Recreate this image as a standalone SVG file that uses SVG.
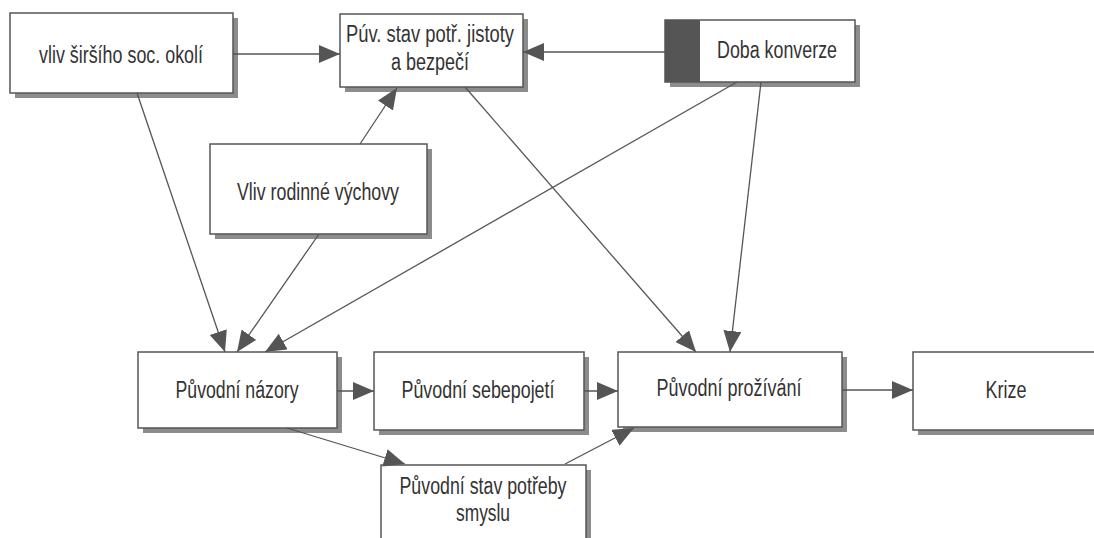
<svg xmlns="http://www.w3.org/2000/svg" width="1094" height="538" viewBox="0 0 1094 538">
<defs>
<marker id="ah" markerUnits="userSpaceOnUse" markerWidth="23" markerHeight="19" refX="21" refY="9" orient="auto">
<path d="M0,0 L21,9 L0,18 z" fill="#555"/>
</marker>
<style>
.sh{fill:#8c8c8c}
.bx{fill:#fff;stroke:#555;stroke-width:1.5}
.t{font-family:"Liberation Sans",Arial,sans-serif;font-size:23px;fill:#333;text-anchor:middle}
.c{dominant-baseline:central}
.e{stroke:#555;stroke-width:1.3;fill:none;marker-end:url(#ah)}
</style>
</defs>
<rect width="1094" height="538" fill="#fff"/>
<g id="n-vliv">
<rect class="sh" x="15" y="18" width="223" height="80"/>
<rect class="bx" x="10" y="13" width="223" height="80"/>
<text class="t c" x="121" y="55" textLength="164" lengthAdjust="spacingAndGlyphs">vliv širšího soc. okolí</text>
</g>
<g id="n-puv">
<rect class="sh" x="345" y="19" width="183" height="73"/>
<rect class="bx" x="340" y="14" width="183" height="73"/>
<text class="t" x="430" y="42" textLength="168" lengthAdjust="spacingAndGlyphs">Púv. stav potř. jistoty</text>
<text class="t" x="430" y="70" textLength="78" lengthAdjust="spacingAndGlyphs">a bezpečí</text>
</g>
<g id="n-doba">
<rect class="sh" x="670" y="25" width="190" height="62"/>
<rect class="bx" x="665" y="20" width="190" height="62"/>
<rect x="665" y="20" width="35" height="62" fill="#555"/>
<text class="t c" x="777" y="50" textLength="120" lengthAdjust="spacingAndGlyphs">Doba konverze</text>
</g>
<g id="n-rodina">
<rect class="sh" x="215" y="149" width="217" height="90"/>
<rect class="bx" x="210" y="144" width="217" height="90"/>
<text class="t c" x="318" y="192" textLength="162" lengthAdjust="spacingAndGlyphs">Vliv rodinné výchovy</text>
</g>
<g id="n-nazory">
<rect class="sh" x="143" y="357" width="199" height="76"/>
<rect class="bx" x="138" y="352" width="199" height="76"/>
<text class="t c" x="237" y="390" textLength="123" lengthAdjust="spacingAndGlyphs">Původní názory</text>
</g>
<g id="n-sebepojeti">
<rect class="sh" x="379" y="357" width="210" height="78"/>
<rect class="bx" x="374" y="352" width="210" height="78"/>
<text class="t c" x="478" y="390" textLength="153" lengthAdjust="spacingAndGlyphs">Původní sebepojetí</text>
</g>
<g id="n-prozivani">
<rect class="sh" x="623" y="357" width="224" height="75"/>
<rect class="bx" x="618" y="352" width="224" height="75"/>
<text class="t c" x="729" y="388" textLength="145" lengthAdjust="spacingAndGlyphs">Původní prožívání</text>
</g>
<g id="n-krize">
<rect class="sh" x="918" y="357" width="190" height="78"/>
<rect class="bx" x="913" y="352" width="190" height="78"/>
<text class="t c" x="1006" y="390" textLength="41" lengthAdjust="spacingAndGlyphs">Krize</text>
</g>
<g id="n-smysl">
<rect class="sh" x="386" y="470" width="205" height="80"/>
<rect class="bx" x="381" y="465" width="205" height="80"/>
<text class="t" x="483" y="494" textLength="167" lengthAdjust="spacingAndGlyphs">Původní stav potřeby</text>
<text class="t" x="483" y="521" textLength="54" lengthAdjust="spacingAndGlyphs">smyslu</text>
</g>
<g id="connectors">
<line class="e" x1="233" y1="54" x2="340" y2="54"/>
<line class="e" x1="665" y1="52" x2="523" y2="52"/>
<line class="e" x1="360" y1="144" x2="397" y2="88"/>
<line class="e" x1="137" y1="93" x2="225" y2="352"/>
<line class="e" x1="319" y1="234" x2="237" y2="352"/>
<line class="e" x1="737" y1="82" x2="265" y2="352"/>
<line class="e" x1="465" y1="87" x2="696" y2="352"/>
<line class="e" x1="761" y1="82" x2="730" y2="352"/>
<line class="e" x1="337" y1="391" x2="374" y2="391"/>
<line class="e" x1="584" y1="391" x2="618" y2="391"/>
<line class="e" x1="842" y1="390" x2="913" y2="390"/>
<line class="e" x1="287" y1="428" x2="405" y2="464"/>
<line class="e" x1="565" y1="464" x2="634" y2="428"/>
</g>
</svg>
